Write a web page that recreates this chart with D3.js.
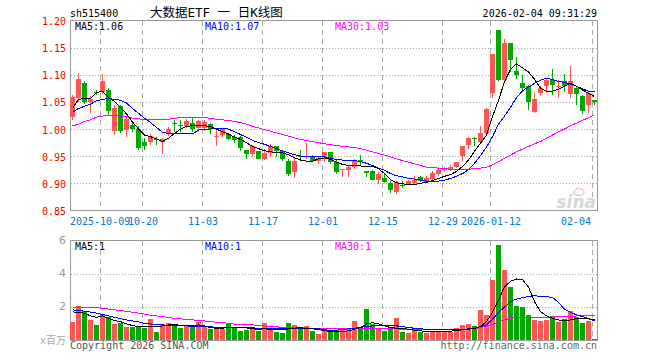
<!DOCTYPE html>
<html>
<head>
<meta charset="utf-8">
<script src="https://cdn.jsdelivr.net/npm/d3@7"></script>
<style>
  body { margin: 0; background: #fff; }
  svg { display: block; }
  text { font-family: "DejaVu Sans Mono", monospace; font-size: 10px; }
</style>
</head>
<body>
<div id="chart"></div>
<script>
//********************************************************************//
//                    DATA
//*******************************************************************//

  var openP = [1.022,1.058,1.084,1.050,1.068,1.069,1.072,0.997,1.042,0.998,
               1.008,1.001,0.976,0.977,0.981,0.977,0.990,1.011,1.007,1.005,
               1.011,1.002,1.002,1.010,0.986,0.989,0.991,0.985,0.985,0.962,
               0.955,0.959,0.945,0.956,0.968,0.959,0.942,0.920,0.951,0.948,
               0.951,0.941,0.948,0.957,0.940,0.924,0.924,0.931,0.943,0.923,
               0.923,0.907,0.909,0.901,0.884,0.897,0.898,0.901,0.912,0.903,
               0.908,0.918,0.924,0.925,0.930,0.950,0.971,0.983,0.977,0.992,
               1.067,1.182,1.091,1.158,1.107,1.085,1.079,1.032,1.066,1.080,
               1.091,1.078,1.088,1.064,1.075,1.061,1.044,1.053];
  var closeP = [1.059,1.093,1.050,1.055,1.066,1.088,1.034,1.039,0.997,1.018,
                1.001,0.966,0.968,0.987,0.979,0.982,1.001,1.010,1.005,1.015,
                1.001,1.015,1.013,1.001,0.988,1.000,0.982,0.980,0.966,0.955,
                0.969,0.945,0.956,0.968,0.959,0.944,0.918,0.942,0.949,0.950,
                0.941,0.947,0.957,0.939,0.920,0.926,0.931,0.942,0.939,0.919,
                0.907,0.917,0.903,0.887,0.903,0.895,0.904,0.906,0.904,0.910,
                0.919,0.924,0.929,0.931,0.939,0.969,0.983,0.981,0.992,1.037,
                1.138,1.091,1.158,1.127,1.099,1.075,1.050,1.056,1.075,1.091,
                1.081,1.080,1.080,1.088,1.064,1.034,1.066,1.049];
  var highP = [1.063,1.103,1.088,1.060,1.072,1.101,1.075,1.044,1.044,1.023,
               1.014,1.005,0.983,0.990,0.986,0.983,1.004,1.017,1.017,1.018,
               1.022,1.017,1.016,1.011,0.998,1.001,0.993,0.989,0.987,0.962,
               0.970,0.960,0.963,0.973,0.969,0.960,0.944,0.946,0.962,0.975,
               0.952,0.951,0.958,0.957,0.943,0.927,0.933,0.945,0.952,0.923,
               0.925,0.920,0.917,0.904,0.905,0.904,0.907,0.914,0.913,0.913,
               0.922,0.931,0.931,0.934,0.940,0.969,0.986,0.985,1.006,1.039,
               1.139,1.182,1.165,1.158,1.132,1.099,1.081,1.066,1.079,1.093,
               1.110,1.091,1.102,1.116,1.078,1.063,1.069,1.053];
  var lowP = [1.016,1.050,1.046,1.030,1.063,1.064,1.026,0.989,0.992,0.985,
              0.995,0.961,0.961,0.970,0.971,0.955,0.987,0.995,0.994,1.002,
              0.995,0.995,0.996,0.991,0.969,0.986,0.979,0.974,0.960,0.944,
              0.948,0.944,0.943,0.948,0.949,0.942,0.914,0.909,0.945,0.944,
              0.941,0.935,0.940,0.936,0.917,0.911,0.911,0.926,0.932,0.911,
              0.906,0.899,0.901,0.882,0.880,0.892,0.897,0.898,0.902,0.900,
              0.906,0.914,0.920,0.922,0.928,0.942,0.963,0.969,0.974,0.989,
              1.058,1.089,1.089,1.105,1.093,1.072,1.036,1.030,1.063,1.067,
              1.063,1.058,1.069,1.058,1.044,1.028,1.030,1.044];

  var ma5 = [1.038,1.055,1.056,1.056,1.067,1.070,1.058,1.051,1.040,1.028,
             1.013,1.000,0.989,0.986,0.982,0.977,0.983,0.992,1.000,1.005,
             1.006,1.006,1.006,1.005,1.000,0.995,0.991,0.985,0.981,0.975,
             0.968,0.964,0.960,0.958,0.957,0.956,0.953,0.947,0.943,0.941,
             0.941,0.945,0.947,0.944,0.939,0.935,0.933,0.933,0.932,0.931,
             0.931,0.927,0.918,0.907,0.901,0.899,0.898,0.898,0.900,0.902,
             0.905,0.909,0.913,0.916,0.922,0.931,0.943,0.959,0.974,0.989,
             1.023,1.053,1.087,1.110,1.120,1.113,1.105,1.092,1.075,1.070,
             1.070,1.073,1.079,1.084,1.079,1.072,1.066,1.060];
  var ma10 = [1.031,1.038,1.042,1.046,1.052,1.055,1.056,1.055,1.053,1.048,
              1.038,1.029,1.020,1.012,1.003,0.994,0.992,0.991,0.991,0.991,
              0.991,0.998,1.000,1.000,1.001,1.001,1.000,0.995,0.990,0.985,
              0.979,0.975,0.972,0.968,0.964,0.960,0.956,0.953,0.950,0.950,
              0.950,0.950,0.949,0.946,0.944,0.943,0.942,0.942,0.940,0.937,
              0.933,0.928,0.924,0.918,0.914,0.912,0.909,0.908,0.906,0.904,
              0.904,0.904,0.906,0.909,0.913,0.918,0.925,0.937,0.951,0.967,
              0.986,1.009,1.024,1.040,1.058,1.070,1.078,1.084,1.090,1.094,
              1.091,1.088,1.086,1.083,1.079,1.074,1.070,1.070];
  var ma30 = [1.006,1.009,1.014,1.017,1.022,1.024,1.025,1.025,1.024,1.023,
              1.020,1.019,1.017,1.017,1.017,1.017,1.018,1.020,1.021,1.022,
              1.022,1.022,1.021,1.020,1.018,1.017,1.016,1.014,1.012,1.009,
              1.005,1.002,0.999,0.996,0.993,0.990,0.987,0.984,0.981,0.979,
              0.977,0.975,0.973,0.971,0.970,0.968,0.967,0.966,0.964,0.961,
              0.958,0.955,0.952,0.949,0.945,0.942,0.939,0.936,0.933,0.930,
              0.929,0.928,0.927,0.926,0.926,0.926,0.926,0.927,0.928,0.930,
              0.934,0.940,0.946,0.952,0.958,0.963,0.968,0.973,0.977,0.983,
              0.989,0.995,1.000,1.006,1.011,1.016,1.021,1.026];

  // volume, x 1,000,000
  var volume = [1.11,2.06,1.76,1.21,0.91,1.52,1.37,0.97,1.05,0.77,
                0.81,0.85,0.75,1.27,0.51,0.97,1.05,0.97,0.75,0.87,
                0.85,1.11,0.87,0.67,0.75,0.67,0.97,0.77,0.55,0.63,
                0.67,0.57,1.05,0.67,0.51,0.42,1.05,0.93,0.71,0.85,
                0.55,0.36,0.53,0.55,0.61,0.67,0.65,1.17,0.67,1.88,
                0.97,0.71,0.57,0.67,1.35,0.51,0.42,0.63,0.51,0.42,
                0.46,0.55,0.51,0.51,0.75,0.91,0.97,0.85,1.78,1.52,
                3.60,5.72,4.24,3.17,2.06,2.02,1.52,1.23,1.17,1.23,
                1.47,1.11,1.27,1.72,1.41,1.03,1.17,0.08];
  var volMa5 = [1.70,1.66,1.62,1.45,1.37,1.45,1.31,1.17,1.11,0.97,
                0.87,0.81,0.81,0.81,0.81,0.85,0.91,0.95,0.87,0.87,
                0.87,0.91,0.85,0.75,0.71,0.71,0.75,0.75,0.75,0.73,
                0.67,0.65,0.67,0.65,0.61,0.61,0.67,0.71,0.75,0.67,
                0.67,0.63,0.57,0.51,0.51,0.51,0.55,0.65,0.75,0.97,
                1.05,0.97,0.85,0.75,0.71,0.69,0.65,0.59,0.55,0.51,
                0.51,0.51,0.51,0.53,0.57,0.61,0.65,0.69,0.81,1.11,
                1.66,2.42,3.19,3.54,3.68,3.64,3.19,2.32,1.72,1.45,
                1.31,1.21,1.17,1.21,1.29,1.31,1.29,1.21];
  var volMa10 = [1.82,1.78,1.74,1.68,1.62,1.54,1.45,1.37,1.29,1.21,
                 1.15,1.09,1.01,0.97,0.93,0.91,0.89,0.87,0.85,0.85,
                 0.83,0.81,0.81,0.79,0.77,0.77,0.77,0.77,0.75,0.73,
                 0.73,0.71,0.71,0.71,0.71,0.71,0.71,0.71,0.71,0.69,
                 0.69,0.67,0.63,0.57,0.59,0.63,0.67,0.71,0.77,0.81,
                 0.85,0.87,0.87,0.87,0.85,0.81,0.75,0.71,0.67,0.65,
                 0.63,0.61,0.61,0.61,0.61,0.63,0.67,0.71,0.81,0.91,
                 1.25,1.66,1.98,2.32,2.46,2.55,2.63,2.67,2.63,2.61,
                 2.57,2.26,1.86,1.66,1.52,1.41,1.29,1.15];
  var volMa30 = [1.98,1.98,1.96,1.94,1.94,1.92,1.86,1.82,1.78,1.72,
                 1.68,1.62,1.56,1.49,1.45,1.41,1.35,1.31,1.27,1.25,
                 1.21,1.19,1.15,1.11,1.07,1.05,1.01,0.95,0.95,0.93,
                 0.91,0.89,0.85,0.81,0.79,0.77,0.77,0.75,0.75,0.73,
                 0.71,0.71,0.69,0.67,0.67,0.67,0.67,0.67,0.67,0.67,
                 0.67,0.67,0.67,0.67,0.67,0.65,0.65,0.65,0.65,0.65,
                 0.65,0.63,0.63,0.63,0.63,0.65,0.65,0.69,0.75,0.83,
                 0.95,1.09,1.21,1.31,1.35,1.37,1.37,1.37,1.37,1.37,
                 1.39,1.41,1.41,1.43,1.45,1.47,1.49,1.49];

  var priceTicks = [1.20, 1.15, 1.10, 1.05, 1.00, 0.95, 0.90, 0.85];
  var volTicks = [6, 4, 2];
  var dateTickIdx = [5, 12, 22, 32, 42, 52, 62, 70, 87];
  var dateTickLabels = ["2025-10-09", "10-20", "11-03", "11-17", "12-01",
                        "12-15", "12-29", "2026-01-12", "02-04"];

  var upColor = "#ff5555",
      downColor = "#00a800";

//********************************************************************//
//                    SCALES
//*******************************************************************//

var n = closeP.length;
var svg = d3.select("#chart")
  .append("svg")
    .attr("width", 660)
    .attr("height", 360);

var x = d3.scaleBand()
          .domain(d3.range(n))
          .range([70, 598]);
var y = d3.scaleLinear()
          .domain([0.85, 1.20])
          .range([210.5, 20.5]);
var yv = d3.scaleLinear()
          .domain([0, 6])
          .range([340, 240.5]);

function candleColor(i) { return closeP[i] >= openP[i] ? upColor : downColor; }
function px(v) { return Math.round(v) + 0.5; }

//********************************************************************//
//                    FRAMES + GRID
//*******************************************************************//

var grid = svg.append("g").attr("shape-rendering", "crispEdges");

// dotted price lines
grid.selectAll("line.hgrid")
  .data(priceTicks.slice(1, -1))
  .enter()
  .append("line")
    .attr("x1", 71).attr("x2", 597)
    .attr("y1", function(d) { return px(y(d)); })
    .attr("y2", function(d) { return px(y(d)); })
    .attr("stroke", "#aaa")
    .attr("stroke-dasharray", "1,2");

// dotted volume lines
grid.selectAll("line.vgridh")
  .data(volTicks.slice(1))
  .enter()
  .append("line")
    .attr("x1", 71).attr("x2", 597)
    .attr("y1", function(d) { return px(yv(d)); })
    .attr("y2", function(d) { return px(yv(d)); })
    .attr("stroke", "#aaa")
    .attr("stroke-dasharray", "1,2");

// dashed date lines, both panels
[[21, 210], [241, 340]].forEach(function(span) {
  grid.selectAll(null)
    .data(dateTickIdx)
    .enter()
    .append("line")
      .attr("x1", function(d) { return x(d) + 0.5; })
      .attr("x2", function(d) { return x(d) + 0.5; })
      .attr("y1", span[0]).attr("y2", span[1])
      .attr("stroke", "#aaa")
      .attr("stroke-dasharray", "5,4");
});

grid.append("rect")
    .attr("x", 70.5).attr("y", 20.5).attr("width", 527).attr("height", 190)
    .attr("fill", "none").attr("stroke", "#999");
grid.append("rect")
    .attr("x", 70.5).attr("y", 240.5).attr("width", 527).attr("height", 100)
    .attr("fill", "none").attr("stroke", "#999");

// sina watermark
svg.append("ellipse")
    .attr("cx", 579).attr("cy", 192).attr("rx", 5).attr("ry", 3.5)
    .attr("fill", "none").attr("stroke", "#f3c4c4").attr("stroke-width", 1.5);
svg.append("text")
    .attr("x", 596).attr("y", 208)
    .attr("text-anchor", "end")
    .style("font-family", "'DejaVu Sans', sans-serif")
    .style("font-size", "17px")
    .style("font-weight", "bold")
    .style("font-style", "italic")
    .style("fill", "#d6d6d6")
    .text("sina");

//********************************************************************//
//                    CANDLES + VOLUME
//*******************************************************************//

var marks = svg.append("g").attr("shape-rendering", "crispEdges");

marks.selectAll("rect.wick")
  .data(d3.range(n))
  .enter()
  .append("rect")
    .attr("x", function(i) { return x(i) + 2; })
    .attr("width", 1)
    .attr("y", function(i) { return Math.round(y(highP[i])); })
    .attr("height", function(i) { return Math.max(1, Math.round(y(lowP[i])) - Math.round(y(highP[i]))); })
    .attr("fill", candleColor);

marks.selectAll("rect.body")
  .data(d3.range(n))
  .enter()
  .append("rect")
    .attr("x", function(i) { return x(i); })
    .attr("width", x.bandwidth() - 1)
    .attr("y", function(i) { return Math.round(y(Math.max(openP[i], closeP[i]))); })
    .attr("height", function(i) {
      return Math.max(1, Math.round(y(Math.min(openP[i], closeP[i]))) - Math.round(y(Math.max(openP[i], closeP[i]))));
    })
    .attr("fill", candleColor);

marks.selectAll("rect.vol")
  .data(d3.range(n))
  .enter()
  .append("rect")
    .attr("x", function(i) { return x(i); })
    .attr("width", x.bandwidth() - 1)
    .attr("y", function(i) { return Math.round(yv(volume[i])); })
    .attr("height", function(i) { return 340 - Math.round(yv(volume[i])); })
    .attr("fill", candleColor);

// moving averages
function drawLine(arr, scale, color) {
  var line = d3.line()
    .x(function(d, i) { return x(i) + 2.5; })
    .y(function(d) { return scale(d); });
  svg.append("path")
    .datum(arr)
    .attr("d", line)
    .attr("fill", "none")
    .attr("stroke", color)
    .attr("stroke-width", 1)
    .attr("shape-rendering", "crispEdges");
}
drawLine(ma30, y, "#ff00ff");
drawLine(ma10, y, "#0000ff");
drawLine(ma5, y, "#000000");
drawLine(volMa30, yv, "#ff00ff");
drawLine(volMa10, yv, "#0000ff");
drawLine(volMa5, yv, "#000000");

//********************************************************************//
//                    TEXT
//*******************************************************************//

svg.selectAll("text.ptick")
  .data(priceTicks)
  .enter()
  .append("text")
    .attr("x", 66)
    .attr("y", function(d) { return y(d) + 4.5; })
    .attr("text-anchor", "end")
    .style("fill", "#ee0000")
    .text(function(d) { return d.toFixed(2); });

svg.selectAll("text.vtick")
  .data(volTicks)
  .enter()
  .append("text")
    .attr("x", 66)
    .attr("y", function(d) { return yv(d) + 3.6; })
    .attr("text-anchor", "end")
    .style("fill", "#999")
    .style("font-family", "'DejaVu Sans', sans-serif")
    .style("font-size", "11px")
    .text(function(d) { return d; });

svg.append("text")
    .attr("x", 66).attr("y", 344)
    .attr("text-anchor", "end")
    .style("fill", "#aaa")
    .style("font-family", "'DejaVu Sans Mono', 'Noto Sans CJK SC', monospace")
    .text("x百万");

svg.selectAll("text.dtick")
  .data(dateTickIdx)
  .enter()
  .append("text")
    .attr("x", function(d, k) {
      if (k === 0) return 70;
      if (k === dateTickIdx.length - 1) return x(d) - 1;
      return x(d) + 1;
    })
    .attr("y", 225)
    .attr("text-anchor", function(d, k) {
      if (k === 0) return "start";
      if (k === dateTickIdx.length - 1) return "end";
      return "middle";
    })
    .style("fill", "#0078d0")
    .text(function(d, k) { return dateTickLabels[k]; });

// header
svg.append("text").attr("x", 70).attr("y", 17).style("fill", "#000").text("sh515400");
svg.append("text")
    .attr("x", 150).attr("y", 17)
    .style("font-family", "'DejaVu Sans Mono', 'Noto Sans CJK SC', monospace")
    .style("font-size", "12.5px")
    .style("fill", "#000")
    .text("大数据ETF 一 日K线图");
svg.append("text").attr("x", 597).attr("y", 17).attr("text-anchor", "end")
    .style("fill", "#000").text("2026-02-04 09:31:29");

// MA legends
var maLegend = [{t: "MA5:1.06", c: "#000000", x: 75},
                {t: "MA10:1.07", c: "#0000ff", x: 205},
                {t: "MA30:1.03", c: "#ff00ff", x: 335}];
var volLegend = [{t: "MA5:1", c: "#000000", x: 75},
                 {t: "MA10:1", c: "#0000ff", x: 205},
                 {t: "MA30:1", c: "#ff00ff", x: 335}];
svg.selectAll("text.mal")
  .data(maLegend).enter().append("text")
    .attr("x", function(d) { return d.x; }).attr("y", 30)
    .style("fill", function(d) { return d.c; })
    .text(function(d) { return d.t; });
svg.selectAll("text.vml")
  .data(volLegend).enter().append("text")
    .attr("x", function(d) { return d.x; }).attr("y", 250)
    .style("fill", function(d) { return d.c; })
    .text(function(d) { return d.t; });

// footer
svg.append("text").attr("x", 70).attr("y", 349).style("fill", "#555").text("Copyright 2026 SINA.COM");
svg.append("text").attr("x", 597).attr("y", 349).attr("text-anchor", "end")
    .style("fill", "#666").text("http://finance.sina.com.cn");
</script>
</body>
</html>
